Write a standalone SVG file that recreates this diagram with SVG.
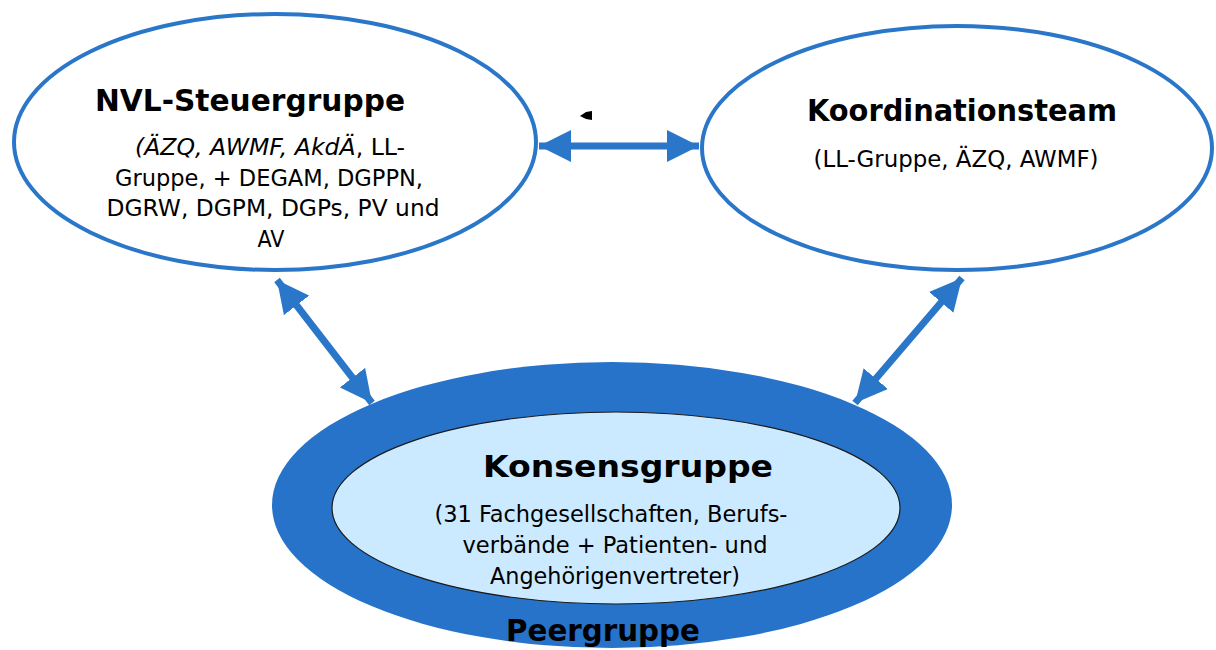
<svg xmlns="http://www.w3.org/2000/svg" width="1216" height="650" viewBox="0 0 1216 650">
<style>
.ring{fill:#ffffff;stroke:#2a77c9;stroke-width:4}
.t{font-family:"DejaVu Sans","Liberation Sans",sans-serif;fill:#000;text-anchor:middle}
.b{font-weight:bold;font-size:30px}
.s{font-size:23px}
.c{font-family:"DejaVu Sans Condensed","DejaVu Sans","Liberation Sans",sans-serif}
.arr{stroke:#2a77c9;stroke-width:7;fill:none;marker-start:url(#ah);marker-end:url(#ah)}
</style>
<defs>
<marker id="ah" markerUnits="userSpaceOnUse" markerWidth="34" markerHeight="32" refX="32" refY="16" orient="auto-start-reverse" viewBox="0 0 34 32">
<path d="M0,0 L32,16 L0,32 Z" fill="#2a77c9"/>
</marker>
</defs>
<rect width="1216" height="650" fill="#ffffff"/>
<g id="connectors">
<line class="arr" x1="539" y1="146" x2="699" y2="146"/>
<line class="arr" x1="277" y1="280" x2="372" y2="403"/>
<line class="arr" x1="962" y1="278" x2="855" y2="403"/>
<path d="M580,116 L586,112 L592,111 L592,120 L586,119 Z" fill="#000"/>
</g>
<g id="peergruppe">
<ellipse cx="612" cy="505" rx="340" ry="143" fill="#2673c9"/>
<text class="t b" x="603" y="641" textLength="194" lengthAdjust="spacingAndGlyphs">Peergruppe</text>
</g>
<g id="konsensgruppe">
<ellipse cx="616" cy="508" rx="284" ry="96" fill="#cceaff" stroke="#1a1a1a" stroke-width="1.2"/>
<text class="t b" x="628" y="477" textLength="290" lengthAdjust="spacingAndGlyphs">Konsensgruppe</text>
<text class="t s c" x="611" y="522" textLength="353" lengthAdjust="spacingAndGlyphs">(31 Fachgesellschaften, Berufs-</text>
<text class="t s c" x="615" y="553" textLength="305" lengthAdjust="spacingAndGlyphs">verbände + Patienten- und</text>
<text class="t s c" x="615" y="584" textLength="250" lengthAdjust="spacingAndGlyphs">Angehörigenvertreter)</text>
</g>
<g id="nvl-steuergruppe">
<ellipse class="ring" cx="275" cy="142" rx="261" ry="128"/>
<text class="t b" x="250" y="111" textLength="310" lengthAdjust="spacingAndGlyphs">NVL-Steuergruppe</text>
<text class="t s" x="270" y="155" textLength="270" lengthAdjust="spacingAndGlyphs"><tspan font-style="italic">(ÄZQ, AWMF, AkdÄ</tspan>, LL-</text>
<text class="t s" x="269" y="186" textLength="308" lengthAdjust="spacingAndGlyphs">Gruppe, + DEGAM, DGPPN,</text>
<text class="t s" x="273" y="216" textLength="333" lengthAdjust="spacingAndGlyphs">DGRW, DGPM, DGPs, PV und</text>
<text class="t s" x="271" y="247" textLength="27" lengthAdjust="spacingAndGlyphs">AV</text>
</g>
<g id="koordinationsteam">
<ellipse class="ring" cx="957" cy="148" rx="255" ry="122"/>
<text class="t b" x="962" y="121" textLength="310" lengthAdjust="spacingAndGlyphs">Koordinationsteam</text>
<text class="t s" x="956" y="167" textLength="285" lengthAdjust="spacingAndGlyphs">(LL-Gruppe, ÄZQ, AWMF)</text>
</g>
</svg>
